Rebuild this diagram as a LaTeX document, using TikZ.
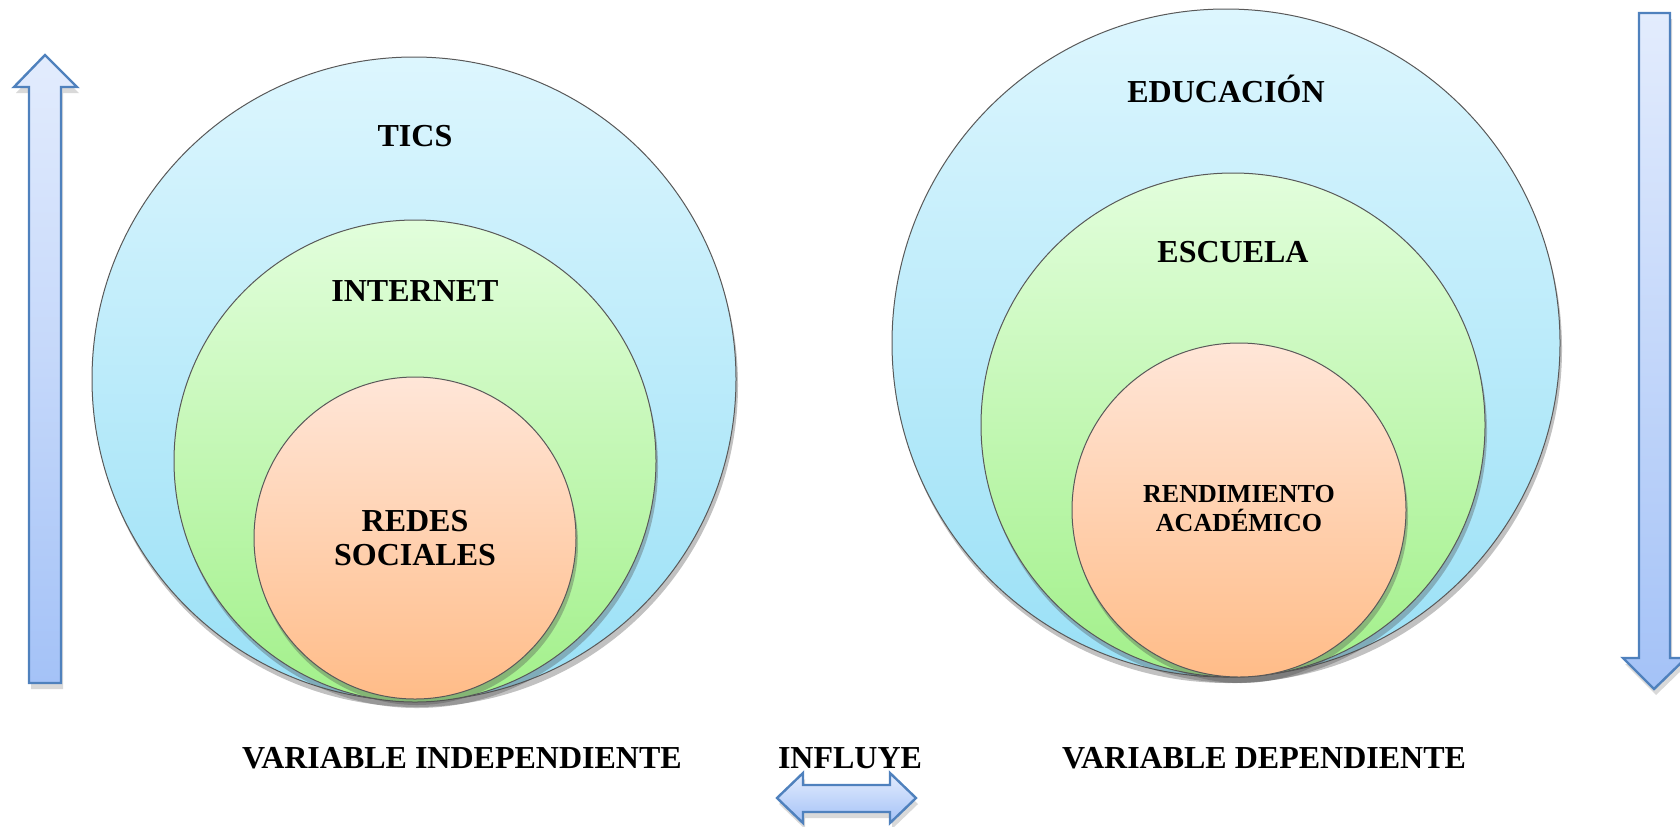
\documentclass[tikz,border=0pt]{standalone}
\usepackage{fontspec}
\setmainfont{Liberation Serif}
\usetikzlibrary{shadows}
\definecolor{bluetop}{HTML}{DDF6FE}
\definecolor{bluebot}{HTML}{99E0F6}
\definecolor{greentop}{HTML}{E2FEDC}
\definecolor{greenbot}{HTML}{A2F08A}
\definecolor{orangetop}{HTML}{FFE6D8}
\definecolor{orangebot}{HTML}{FFBC88}
\definecolor{arrtop}{HTML}{E3ECFD}
\definecolor{arrbot}{HTML}{A4C2F7}
\definecolor{arrline}{HTML}{4F81BD}
\tikzset{
  ring/.style={circle, draw=black!65, line width=0.5pt, inner sep=0pt,
    drop shadow={shadow xshift=1pt, shadow yshift=-3pt, opacity=0.35, fill=black!70}},
  bluering/.style={ring, top color=bluetop, bottom color=bluebot},
  greenring/.style={ring, top color=greentop, bottom color=greenbot},
  orangering/.style={ring, top color=orangetop, bottom color=orangebot},
  lbl/.style={font=\fontsize{16}{17}\selectfont\bfseries, align=center, inner sep=0pt},
  smalllbl/.style={font=\fontsize{13}{14.5}\selectfont\bfseries, align=center, inner sep=0pt},
  bigarrow/.style={draw=arrline, line width=1.2pt, line join=miter, top color=arrtop, bottom color=arrbot,
    drop shadow={shadow xshift=1pt, shadow yshift=-3pt, opacity=0.25, fill=black!60}}
}
\begin{document}
\begin{tikzpicture}[x=0.5pt, y=-0.5pt]
\useasboundingbox (0,0) rectangle (1680,826);
% left arrow (up)
\path[bigarrow] (29,683) -- (29,87) -- (14,87) -- (45,55) -- (77,87) -- (61,87) -- (61,683) -- cycle;
% right arrow (down)
\path[bigarrow] (1639,13) -- (1670,13) -- (1670,658) -- (1686,658) -- (1654,689) -- (1623,658) -- (1639,658) -- cycle;
% double arrow
\path[bigarrow] (777,798) -- (803,773) -- (803,785) -- (890,785) -- (890,773) -- (916,798) -- (890,823) -- (890,812) -- (803,812) -- (803,823) -- cycle;

% left circles
\node[bluering, minimum size=322pt] (tics) at (414,379) {};
\node[greenring, minimum size=241pt] (internet) at (415,461) {};
\node[orangering, minimum size=161pt] (redes) at (415,538) {};
% right circles
\node[bluering, minimum size=334pt] (educ) at (1226,343) {};
\node[greenring, minimum size=252pt] (escuela) at (1233,425) {};
\node[orangering, minimum size=167pt] (rend) at (1239,510) {};

% labels
\node[lbl] (ticst) at (415,136) {TICS};
\node[lbl] (internett) at (415,291) {INTERNET};
\node[lbl] (redest) at (415,538) {REDES\\SOCIALES};
\node[lbl] (educt) at (1226,89) {EDUCACIÓN};
\node[lbl] (escuelat) at (1233,252) {ESCUELA};
\node[smalllbl] (rendt) at (1239,509) {RENDIMIENTO\\ACADÉMICO};
\node[lbl] (vi) at (462,758) {VARIABLE INDEPENDIENTE};
\node[lbl] (inf) at (850,758) {INFLUYE};
\node[lbl] (vd) at (1264,758) {VARIABLE DEPENDIENTE};
\end{tikzpicture}
\end{document}
